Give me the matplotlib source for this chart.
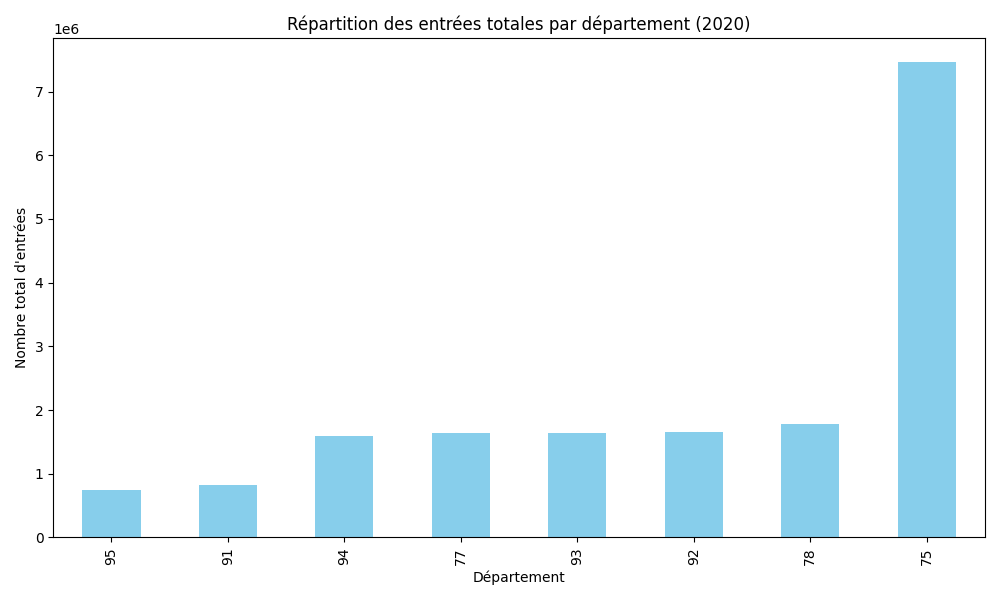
import matplotlib
matplotlib.use("Agg")
import matplotlib.pyplot as plt
import numpy as np

departements = ["95", "91", "94", "77", "93", "92", "78", "75"]
entrees = [0.74e6, 0.83e6, 1.59e6, 1.64e6, 1.64e6, 1.65e6, 1.78e6, 7.47e6]

fig, ax = plt.subplots(figsize=(10, 6), dpi=100)
x = np.arange(len(departements))
ax.bar(x, entrees, width=0.5, color="skyblue")
ax.set_xticks(x)
ax.set_xticklabels(departements, rotation=90)
ax.set_xlim(-0.5, len(departements) - 0.5)
ax.set_title("Répartition des entrées totales par département (2020)")
ax.set_xlabel("Département")
ax.set_ylabel("Nombre total d'entrées")
fig.tight_layout()
fig.savefig("out.png")
